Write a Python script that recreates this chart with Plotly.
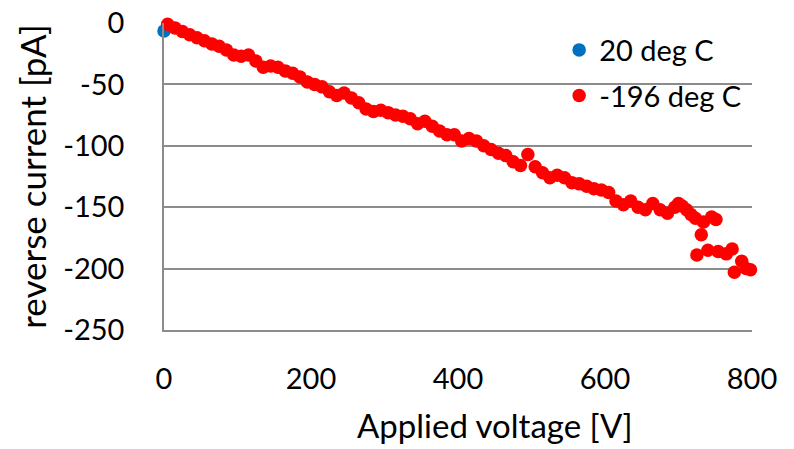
import plotly.graph_objects as go

# 20 deg C series
v_warm = [0]
i_warm = [-6.5]

# -196 deg C series
v_cold = [5, 15, 25, 35, 45, 55, 65, 75, 85, 95, 105, 115, 125, 135, 145, 155, 165, 175, 185, 195,
          205, 215, 225, 235, 245, 255, 265, 275, 285, 295, 305, 315, 325, 335, 345, 355, 365, 375, 385, 395,
          405, 415, 425, 435, 445, 455, 465, 475, 485, 495, 505, 515, 525, 535, 545, 555, 565, 575, 585, 595,
          605, 615, 625, 635, 645, 655, 665, 675, 685, 695, 700, 705, 711, 717, 723,
          731, 734, 745, 751, 725, 740, 754, 765, 773, 776, 786, 792, 798]
i_cold = [-1, -4, -7, -9.5, -12, -14.5, -17, -19, -22, -26, -27, -26, -31, -36, -35, -36, -39, -41, -44, -48,
          -50, -52, -56, -59, -57, -61, -65, -70, -72, -71, -73, -75, -76, -78, -82, -80, -84, -88, -91, -91,
          -96, -94, -96, -100, -103, -106, -108, -113, -116, -107, -117, -122, -126, -124, -126, -130, -131, -133, -135, -136,
          -138, -145, -148, -145, -150, -152, -147, -152, -155, -150, -147, -149, -152, -156, -159,
          -172.5, -162, -158, -160, -189, -185, -186, -188, -184, -203, -194, -200, -201]

x_ticks = [0, 200, 400, 600, 800]
x_labels = ["0", "200", "400", "600", "800"]
y_ticks = [0, -50, -100, -150, -200, -250]
y_labels = ["0", "-50", "-100", "-150", "-200", "-250"]

FONT = "Lato"
FS = 29

fig = go.Figure()
fig.add_trace(go.Scatter(x=v_warm, y=i_warm, mode="markers", name="20 deg C",
                         marker=dict(color="#0070C0", size=13.5), cliponaxis=False, legendgroup="a"))
fig.add_trace(go.Scatter(x=v_cold, y=i_cold, mode="markers", name="-196 deg C",
                         marker=dict(color="#FF0000", size=13.5), cliponaxis=False, legendgroup="b"))

fig.update_layout(
    width=794, height=449,
    margin=dict(l=164, r=42, t=23, b=119),
    paper_bgcolor="white", plot_bgcolor="white",
    font=dict(family=FONT, size=FS, color="black"),
    legend=dict(x=0.672, y=0.995, xanchor="left", yanchor="top", bgcolor="rgba(0,0,0,0)",
                font=dict(size=FS), tracegroupgap=5, itemwidth=30),
    xaxis=dict(range=[0, 800], tickvals=x_ticks, ticktext=x_labels, showgrid=False, zeroline=False,
               showline=True, linecolor="#8c8c8c", linewidth=1.5, automargin=False,
               ticks="", ticklabelstandoff=22),
    yaxis=dict(range=[-250, 0], tickvals=y_ticks, ticktext=y_labels, showgrid=True, gridcolor="#8c8c8c", gridwidth=1.5,
               zeroline=False, showline=True, linecolor="#8c8c8c", linewidth=1.5, automargin=False,
               ticks="", ticklabelstandoff=32,
               title=dict(text="reverse current [pA]", standoff=6)),
    annotations=[dict(text="Applied voltage [V]", xref="paper", yref="paper", x=0.563, y=-0.31,
                      xanchor="center", yanchor="middle", showarrow=False,
                      font=dict(family=FONT, size=33, color="black"))],
)

fig.write_html("out.html")
